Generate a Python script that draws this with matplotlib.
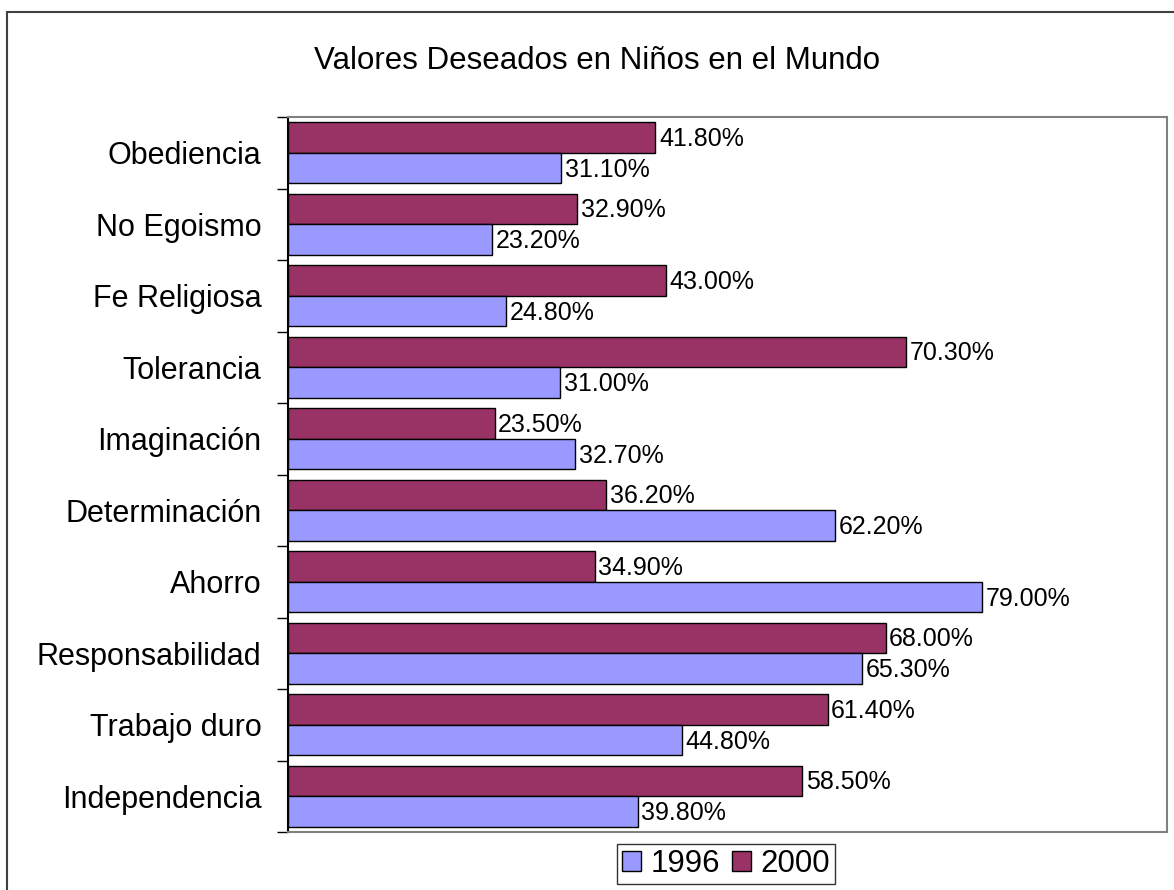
import numpy as np
import matplotlib.pyplot as plt
from matplotlib.patches import Patch, Rectangle

plt.rcParams['font.family'] = ['Liberation Sans', 'DejaVu Sans']

categorias = ['Obediencia', 'No Egoismo', 'Fe Religiosa', 'Tolerancia', 'Imaginación',
              'Determinación', 'Ahorro', 'Responsabilidad', 'Trabajo duro', 'Independencia']
valores_1996 = [31.1, 23.2, 24.8, 31.0, 32.7, 62.2, 79.0, 65.3, 44.8, 39.8]
valores_2000 = [41.8, 32.9, 43.0, 70.3, 23.5, 36.2, 34.9, 68.0, 61.4, 58.5]

color_1996 = '#9999FF'
color_2000 = '#993366'

fig = plt.figure(figsize=(11.74, 8.90), dpi=100)
fig.patch.set_facecolor('white')

# marco exterior del grafico
fig.patches.append(Rectangle((7 / 1174, -0.1), 1.2, 1 - 12 / 890 + 0.1,
                             transform=fig.transFigure, fill=False,
                             edgecolor='#404040', linewidth=1.5))

ax = fig.add_axes([288 / 1174, 1 - 832 / 890, (1167 - 288) / 1174, (832 - 117) / 890])

y = np.arange(len(categorias))
alto = 0.43
b2000 = ax.barh(y - alto / 2, valores_2000, height=alto, color=color_2000,
                edgecolor='black', linewidth=1)
b1996 = ax.barh(y + alto / 2, valores_1996, height=alto, color=color_1996,
                edgecolor='black', linewidth=1)

for barras, vals in ((b2000, valores_2000), (b1996, valores_1996)):
    for b, v in zip(barras, vals):
        ax.text(v + 0.4, b.get_y() + b.get_height() / 2 + 0.02, f'{v:.2f}%',
                va='center', ha='left', fontsize=18)

ax.set_xlim(0, 100)
ax.set_ylim(len(categorias) - 0.5, -0.5)
ax.set_xticks([])

ax.set_yticks(np.arange(-0.5, len(categorias), 1.0))
ax.set_yticklabels([])
ax.tick_params(axis='y', which='major', length=8, width=1, direction='out')
ax.set_yticks(y, minor=True)
ax.set_yticklabels(categorias, minor=True, fontsize=22)
ax.tick_params(axis='y', which='minor', length=0, pad=19)

for lado in ('top', 'right', 'bottom'):
    ax.spines[lado].set_color('#808080')
    ax.spines[lado].set_linewidth(1.5)
ax.spines['left'].set_color('black')
ax.spines['left'].set_linewidth(1.5)

fig.text(597 / 1174, 1 - 61 / 890, 'Valores Deseados en Niños en el Mundo',
         ha='center', va='center', fontsize=22.5)

handles = [Patch(facecolor=color_1996, edgecolor='black', label='1996'),
           Patch(facecolor=color_2000, edgecolor='black', label='2000')]
leg = fig.legend(handles=handles, loc='center', ncol=2,
                 bbox_to_anchor=(726 / 1174, 1 - 864 / 890), fontsize=22.5,
                 frameon=True, fancybox=False, handlelength=0.6, handleheight=0.6,
                 handletextpad=0.3, columnspacing=0.4, borderpad=0.15,
                 borderaxespad=0)
leg.get_frame().set_edgecolor('black')
leg.get_frame().set_linewidth(1)

fig.savefig('out.png', dpi=100)
